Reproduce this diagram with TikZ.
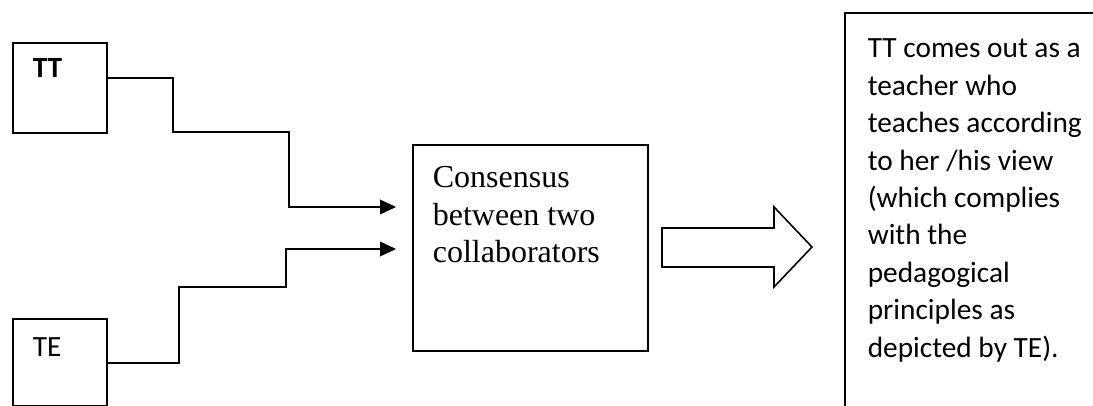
\documentclass[tikz,border=0pt]{standalone}
\usepackage{fontspec}
\setmainfont{Liberation Serif}
\newfontfamily\calibri{Carlito}
\usetikzlibrary{arrows.meta}
\begin{document}
\begin{tikzpicture}[x=0.75pt,y=-0.75pt, line width=1.2pt,
  box/.style={draw, rectangle, inner sep=0pt, anchor=north west},
  conn/.style={-{Triangle[length=12pt,width=11pt]}},
  lbl/.style={inner sep=0pt, font=\calibri\fontsize{22}{26}\selectfont}]
\useasboundingbox (0,0) rectangle (1093,406);
\clip (0,0) rectangle (1093,406);
% boxes
\node[box, minimum width=70.5pt, minimum height=67.5pt] (tt) at (12,42) {};
\node[box, minimum width=70.5pt, minimum height=65.25pt] (te) at (12,318) {};
\node[box, minimum width=176.25pt, minimum height=154.5pt] (cons) at (412,144) {};
\node[box, minimum width=225pt, minimum height=315pt] (res) at (844,12) {};
% labels
\node[lbl, anchor=base west, font=\calibri\bfseries\fontsize{22}{26}\selectfont] (ttl) at (32,78) {TT};
\node[lbl, anchor=base west] (tel) at (32,356) {TE};
\node[inner sep=0pt, anchor=north west, align=left, font=\fontsize{24}{28.1}\selectfont] (consl) at (432,166)
  {Consensus\\between two\\collaborators};
\node[inner sep=0pt, anchor=north west, align=left, font=\calibri\fontsize{22}{28.1}\selectfont] (resl) at (867,38)
  {TT comes out as a\\teacher who\\teaches according\\to her /his view\\(which complies\\with the\\pedagogical\\principles as\\depicted by TE).};
% connectors
\coordinate (ttout) at (tt.east |- 0,78);
\coordinate (teout) at (te.east |- 0,363);
\coordinate (in1) at ([xshift=-12pt]cons.west |- 0,207);
\coordinate (in2) at ([xshift=-12pt]cons.west |- 0,249);
\draw[conn] (ttout) -| (173,132) -| (289,207) -- (in1);
\draw[conn] (teout) -| (179,287) -| (286,249) -- (in2);
% block arrow
\draw (662,228) -- (774,228) -- (774,207) -- (812,247) -- (774,287) -- (774,267) -- (662,267) -- cycle;
\end{tikzpicture}
\end{document}
